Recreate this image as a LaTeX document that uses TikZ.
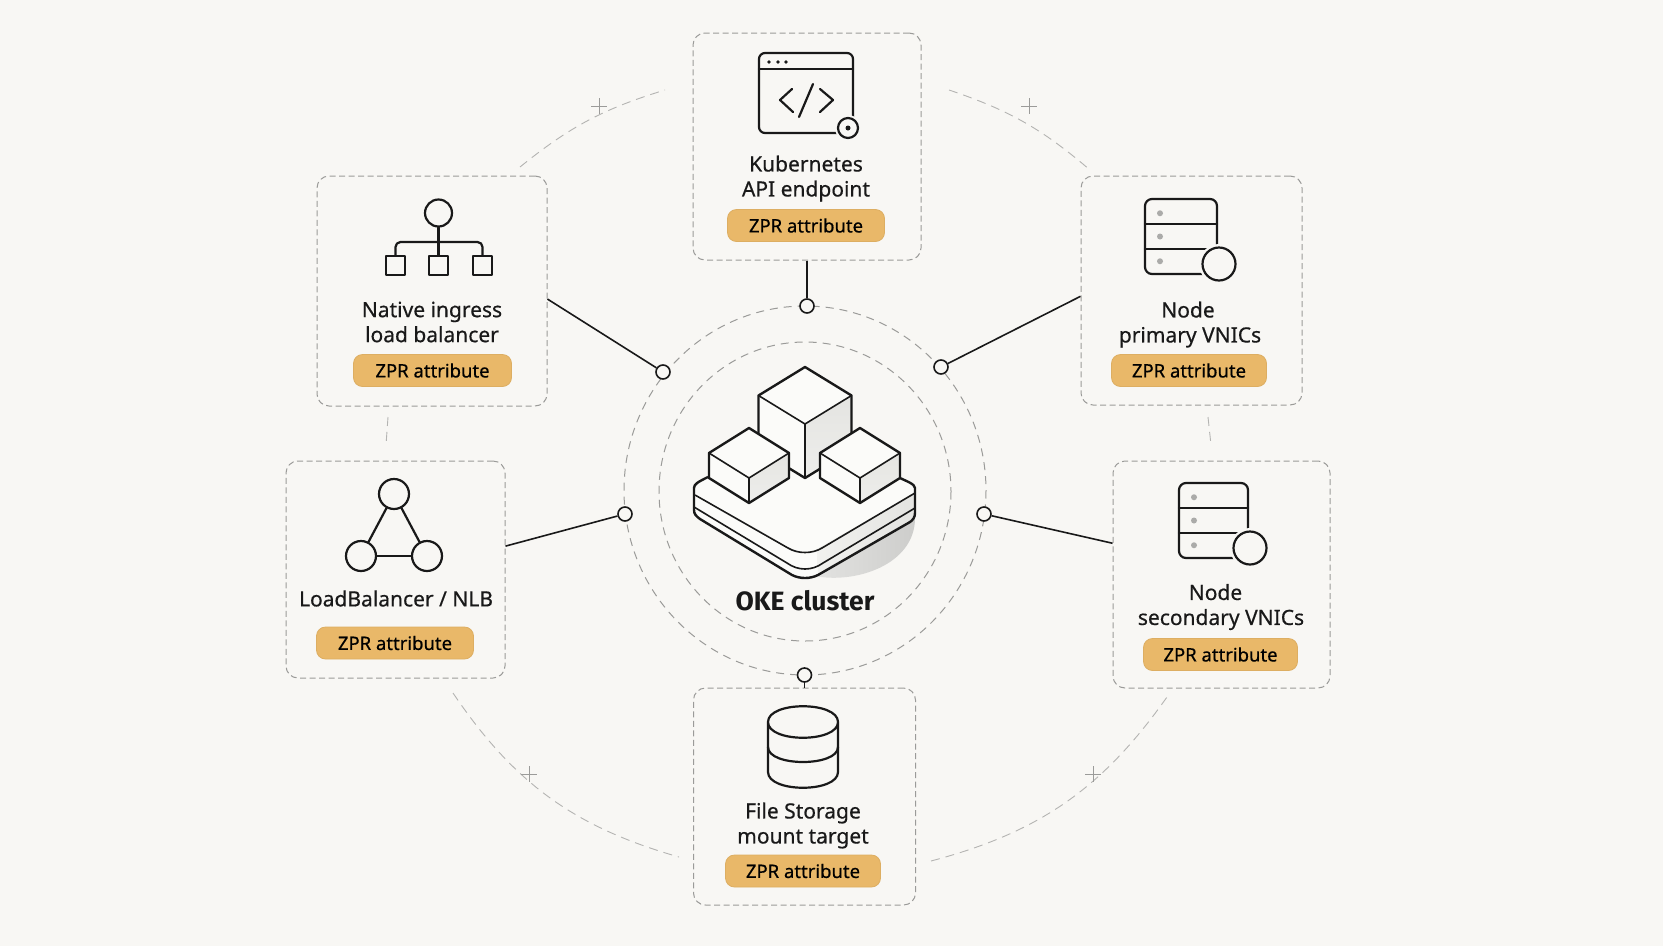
\documentclass[tikz,border=0pt]{standalone}
\usepackage{fontspec}
\setmainfont{Noto Sans}
\newfontfamily\mediumfont{Noto Sans}[FakeBold=0.5]
\newfontfamily\titlefont{Fira Sans}
\usepackage{tikz}
\definecolor{pagebg}{HTML}{F8F7F4}
\definecolor{topwhite}{HTML}{FBFBF9}
\definecolor{inkline}{HTML}{191919}
\definecolor{dashgray}{HTML}{9B9B99}
\definecolor{chipfill}{HTML}{E9B869}
\definecolor{chipedge}{HTML}{DDAE62}
\definecolor{facegray}{HTML}{E4E4E1}
\definecolor{shadowa}{HTML}{E3E3E1}
\definecolor{shadowb}{HTML}{CDCDCB}
\definecolor{dotgray}{HTML}{ABABA9}
\tikzset{card/.style={draw=dashgray,line width=1pt,dash pattern=on 6pt off 3.5pt,fill=pagebg,rounded corners=12pt,inner sep=0pt}}
\tikzset{chip/.style={fill=chipfill,draw=chipedge,line width=0.8pt,rounded corners=9pt,inner sep=0pt,minimum height=32pt,font=\fontsize{18.5}{22}\mediumfont,text=black}}
\tikzset{caption/.style={align=center,inner sep=0pt,font=\fontsize{21}{25}\mediumfont,text=inkline}}
\tikzset{port/.style={draw=inkline,circle,line width=1.6pt,fill=pagebg,inner sep=0pt,minimum size=14pt}}
\tikzset{link/.style={draw=inkline,line width=1.6pt}}
\tikzset{ring/.style={draw=dashgray,line width=1pt,dash pattern=on 8pt off 6pt}}
\tikzset{farring/.style={draw=dashgray!75,line width=0.9pt,dash pattern=on 9pt off 6pt}}
\tikzset{icon/.style={draw=inkline,line width=2.2pt,line cap=round,line join=round}}
\tikzset{ball/.style={icon,circle,fill=pagebg,inner sep=0pt}}
\tikzset{heavy/.style={draw=inkline,line width=2.4pt,line join=round}}
\tikzset{fine/.style={draw=inkline,line width=1.6pt,line join=round}}
\newcommand\servericon[5]{
    \draw[icon,rounded corners=7pt] (#1,#2) rectangle (#1+#3,#2+#4);
    \draw[icon] (#1,#2+#4/3) -- (#1+#3,#2+#4/3);
    \draw[icon] (#1,#2+#4*2/3) -- (#1+#3,#2+#4*2/3);
    \foreach \k in {0.19,0.5,0.83}
        \fill[dotgray] (#1+15,#2+\k*#4) circle (3);
    \fill[pagebg] (#1+#3+2,#2+#4-10) circle (20);
    \node[ball,minimum size=33pt] (#5) at (#1+#3+2,#2+#4-10) {};
}
\newcommand\crate[5]{
    \fill[topwhite] (#1,#2) -- (#1+#3,#2+#5) -- (#1+#3,#2+#5+#4) -- (#1,#2+2*#5+#4) -- (#1-#3,#2+#5+#4) -- (#1-#3,#2+#5) -- cycle;
    \shade[top color=facegray,bottom color=facegray!55!topwhite] (#1,#2+2*#5) -- (#1+#3,#2+#5) -- (#1+#3,#2+#5+#4) -- (#1,#2+2*#5+#4) -- cycle;
    \draw[fine] (#1-#3,#2+#5) -- (#1,#2+2*#5) -- (#1+#3,#2+#5) (#1,#2+2*#5) -- (#1,#2+2*#5+#4);
    \draw[heavy] (#1,#2) -- (#1+#3,#2+#5) -- (#1+#3,#2+#5+#4) -- (#1,#2+2*#5+#4) -- (#1-#3,#2+#5+#4) -- (#1-#3,#2+#5) -- cycle;
}
\begin{document}
\begin{tikzpicture}[x=1pt,y=-1pt]
    \useasboundingbox (0,0) rectangle (1663,946);
    \fill[pagebg] (0,0) rectangle (1663,946);

    \coordinate (ula) at (520,167);
    \coordinate (ulb) at (665,90);
    \coordinate (ura) at (949,90);
    \coordinate (urb) at (1090,170);
    \coordinate (lla) at (453,693);
    \coordinate (llb) at (679,857);
    \coordinate (lra) at (931,861);
    \coordinate (lrb) at (1167,697);
    \coordinate (mla) at (388,417);
    \coordinate (mlb) at (386,445);
    \coordinate (mra) at (1208,417);
    \coordinate (mrb) at (1211,445);
    \draw[farring] (ula) to[bend left=11] (ulb);
    \draw[farring] (ura) to[bend left=11] (urb);
    \draw[farring] (lla) to[bend right=20] (llb);
    \draw[farring] (lra) to[bend right=20] (lrb);
    \draw[farring] (mla) -- (mlb);
    \draw[farring] (mra) -- (mrb);
    \foreach \px/\py in {599/106,1029/106,529/774,1093/774}
        \draw[dashgray,line width=0.9pt] (\px-8,\py) -- (\px+8,\py) (\px,\py-8) -- (\px,\py+8);

    \draw[ring] (805,490.5) ellipse (181 and 184.5);
    \draw[ring] (805,491.5) ellipse (146 and 149.5);

    \node[card,minimum width=228pt,minimum height=227pt] (api) at (807,146.5) {};
    \node[card,minimum width=230pt,minimum height=230pt] (ingress) at (432,291) {};
    \node[card,minimum width=221pt,minimum height=229pt] (primary) at (1191.5,290.5) {};
    \node[card,minimum width=219pt,minimum height=217pt] (nlb) at (395.5,569.5) {};
    \node[card,minimum width=217pt,minimum height=227pt] (secondary) at (1221.5,574.5) {};
    \node[card,minimum width=222pt,minimum height=217pt] (storage) at (804.5,796.5) {};

    \node[port] (papi) at (807,306) {};
    \node[port] (pingress) at (663,372) {};
    \node[port] (pprimary) at (941,367) {};
    \node[port] (pnlb) at (625,514) {};
    \node[port] (psecondary) at (984,514) {};
    \node[port] (pstorage) at (804.5,675) {};
        \path[link] (api.south) -- (papi);
        \path[link] (ingress.-4) -- (pingress);
        \path[link] (primary.183.9) -- (pprimary);
        \path[link] (nlb.12.1) -- (pnlb);
        \path[link] (secondary.164.8) -- (psecondary);
        \path[link] (storage.north) -- (pstorage);

    \node[caption] (tapi) at (806,178.5) {Kubernetes\\API endpoint};
    \node[caption] (tingress) at (432,322) {Native ingress\\load balancer};
    \node[caption] (tprimary) at (1190,324.5) {Node\hspace*{4pt}\\primary VNICs};
    \node[caption] (tnlb) at (396,598.5) {LoadBalancer / NLB};
    \node[caption] (tsecondary) at (1221,607) {Node\hspace*{11pt}\\secondary VNICs};
    \node[caption] (tstorage) at (803,825.5) {File Storage\\mount target};

    \node[chip,minimum width=157pt] (zapi) at (806,225.5) {ZPR attribute};
    \node[chip,minimum width=158pt] (zingress) at (432.5,370.5) {ZPR attribute};
    \node[chip,minimum width=155pt] (zprimary) at (1189,370.5) {ZPR attribute};
    \node[chip,minimum width=157pt] (znlb) at (395,643) {ZPR attribute};
    \node[chip,minimum width=154pt] (zsecondary) at (1220.5,654.5) {ZPR attribute};
    \node[chip,minimum width=155pt] (zstorage) at (803,871) {ZPR attribute};

    \draw[icon,rounded corners=6pt] (759,53) rectangle (853,133);
    \draw[icon] (759,69) -- (853,69);
    \foreach \dotx in {769,778,786}
        \fill[inkline] (\dotx,62) circle (1.8);
    \draw[icon] (792,89) -- (780,100) -- (793,112);
    \draw[icon] (820,89) -- (833,100) -- (820,112);
    \draw[icon] (813,84) -- (799,117);
    \fill[pagebg] (848,128) circle (13);
    \node[ball,minimum size=20pt] (apibadge) at (848,128) {};
    \fill[inkline] (apibadge) circle (2.5);

    \node[ball,minimum size=27pt] (root) at (438.5,213) {};
    \node[icon,minimum size=19pt,inner sep=0pt] (leafa) at (395.5,265.5) {};
    \node[icon,minimum size=19pt,inner sep=0pt] (leafb) at (438.5,265.5) {};
    \node[icon,minimum size=19pt,inner sep=0pt] (leafc) at (482.5,265.5) {};
        \draw[icon] (root) -- (leafb);
        \draw[icon,rounded corners=5pt] (leafa.north) |- (438.5,242) -| (leafc.north);

    \servericon{1145}{199}{72}{75}{badgea}
    \servericon{1179}{483}{69}{75}{badgeb}

    \node[ball,minimum size=30pt] (lbtop) at (394,494) {};
    \node[ball,minimum size=30pt] (lbleft) at (361,556) {};
    \node[ball,minimum size=30pt] (lbright) at (427,556) {};
        \draw[icon] (lbtop) -- (lbleft);
        \draw[icon] (lbtop) -- (lbright);
        \draw[icon] (lbleft) -- (lbright);

    \draw[icon] (768,722) .. controls (768,743) and (838,743) .. (838,722) .. controls (838,701) and (768,701) .. (768,722) -- (768,772) .. controls (768,793) and (838,793) .. (838,772) -- (838,722);
    \draw[icon] (768,747) .. controls (768,767) and (838,767) .. (838,747);

    \shade[left color=shadowa,right color=shadowb] (815,576) .. controls (855,584) and (915,565) .. (915,518) -- cycle;
    \fill[topwhite] (708,477) .. controls (698,482) and (694,484) .. (694,488) -- (694,510) .. controls (694,514) and (696,516) .. (700,519) -- (792,575) .. controls (800,579) and (810,579) .. (818,575) -- (910,522) .. controls (913,520) and (915,517) .. (915,513) -- (915,488) .. controls (915,484) and (906,481) .. (900,478) -- (805,430) -- cycle;
    \shade[left color=facegray!45!topwhite,right color=facegray] (817,549) -- (915,493) -- (915,513) .. controls (915,517) and (913,520) .. (910,522) -- (818,575) -- cycle;
    \draw[fine] (695,495) -- (788,548) .. controls (798,554) and (812,554) .. (822,548) -- (915,493);
    \draw[fine] (694,507) -- (787,563) .. controls (798,571) and (812,571) .. (823,563) -- (915,508);
    \draw[heavy] (708,477) .. controls (698,482) and (694,484) .. (694,488) -- (694,510) .. controls (694,514) and (696,516) .. (700,519) -- (792,575) .. controls (800,579) and (810,579) .. (818,575) -- (910,522) .. controls (913,520) and (915,517) .. (915,513) -- (915,488) .. controls (915,484) and (906,481) .. (900,478);

    \crate{805}{367}{46.5}{54}{28.5}
    \crate{749}{428}{40}{25}{25}
    \crate{860}{428}{40}{25}{25}

    \node[inner sep=0pt,font=\fontsize{26.5}{30}\titlefont\bfseries,text=inkline] (title) at (805,601) {OKE cluster};
\end{tikzpicture}
\end{document}
